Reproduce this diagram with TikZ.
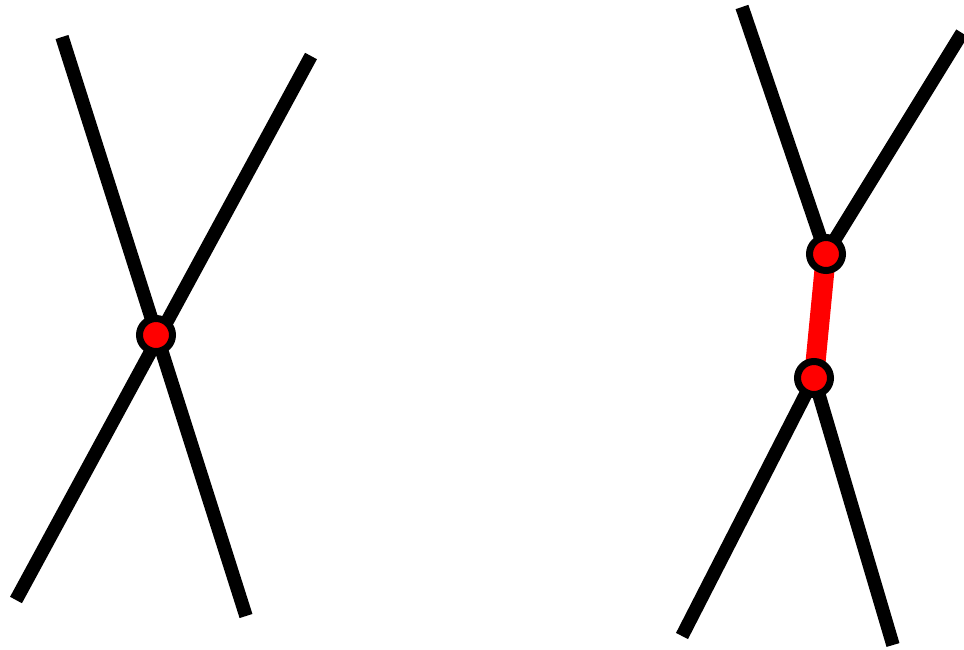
\documentclass[tikz,border=0pt]{standalone}
\begin{document}
\begin{tikzpicture}[x=1pt,y=-1pt,
  edge/.style={line width=13.5pt,black},
  redge/.style={line width=20pt,red},
  vertex/.style={circle,fill=red,draw=black,line width=7pt,minimum size=33pt,inner sep=0pt}]
\useasboundingbox (0,0) rectangle (964,649);
% left
\coordinate (a1) at (62,37);
\coordinate (a2) at (246,616);
\coordinate (b1) at (311,56);
\coordinate (b2) at (16,600);
\draw[edge] (a1) -- (a2);
\draw[edge] (b1) -- (b2);
\node[vertex] (c) at (156,335) {};
% right
\coordinate (d1) at (742,7);
\coordinate (d2) at (962,33);
\coordinate (e1) at (682,636);
\coordinate (e2) at (893,645);
\coordinate (u) at (826,254);
\coordinate (v) at (814,378);
\draw[edge] (d1) -- (u);
\draw[edge] (d2) -- (u);
\draw[edge] (v) -- (e1);
\draw[edge] (v) -- (e2);
\draw[redge] (u) -- (v);
\node[vertex] (un) at (u) {};
\node[vertex] (vn) at (v) {};
\end{tikzpicture}
\end{document}
